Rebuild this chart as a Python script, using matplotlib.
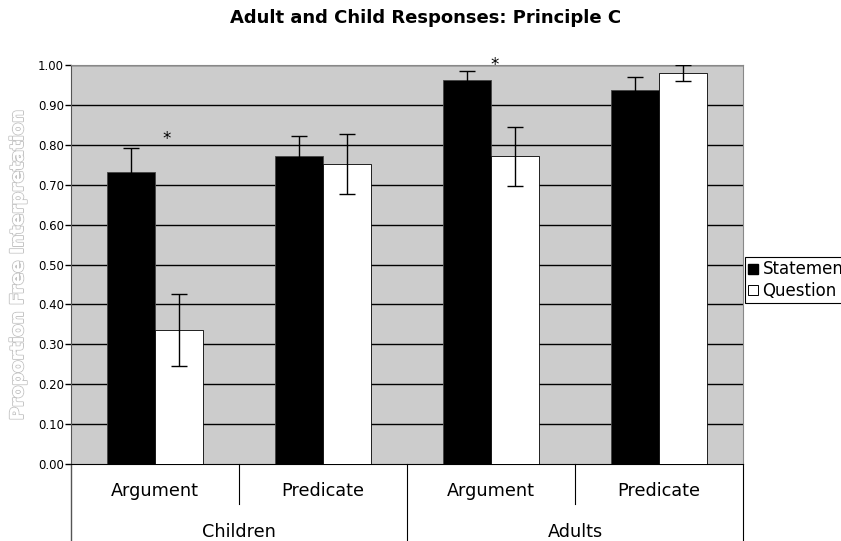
#! /usr/bin/env python3
# -*- coding: utf-8 -*-

from matplotlib import pyplot as plt
from matplotlib import patheffects
from matplotlib.lines import Line2D
import matplotlib.transforms as mtransforms
import numpy as np

# Bar data: statement vs question, per group/phrase type
groups = ['Children', 'Adults']
phrases = ['Argument', 'Predicate', 'Argument', 'Predicate']
statement = [0.733, 0.772, 0.962, 0.937]
statement_err = [0.058, 0.050, 0.024, 0.034]
question = [0.335, 0.751, 0.771, 0.981]
question_err = [0.090, 0.075, 0.074, 0.020]

# significance markers (category index, height)
star_x = [0.071, 2.024]
star_y = [0.815, 1.000]

yticks = np.arange(0, 1.01, 0.1)

fig = plt.figure(figsize=(8.41, 5.41), dpi=100)
ax = fig.add_axes([71/841, 77/541, 672/841, 399/541])
ax.set_facecolor('#cccccc')

x = np.arange(len(phrases))
w = 0.286
ax.bar(x - w/2, statement, w, color='black', edgecolor='#444444', linewidth=0.6, zorder=3)
ax.bar(x + w/2, question, w, color='white', edgecolor='black', linewidth=0.6, zorder=3)
ax.errorbar(x - w/2, statement, yerr=statement_err, fmt='none', ecolor='black',
            elinewidth=1, capsize=5.5, capthick=1, zorder=4)
ax.errorbar(x + w/2, question, yerr=question_err, fmt='none', ecolor='black',
            elinewidth=1, capsize=5.5, capthick=1, zorder=4)

for sx, sy in zip(star_x, star_y):
    ax.text(sx, sy, '*', ha='center', va='center', fontsize=12, zorder=5)

ax.set_xlim(-0.5, 3.5)
ax.set_ylim(0, 1.0)
ax.set_yticks(yticks)
ax.set_yticklabels([f'{v:.2f}' for v in yticks], fontsize=8.5)
ax.tick_params(axis='y', direction='out', length=4, width=1, pad=1)
ax.set_xticks([])
for y in yticks[1:]:
    ax.axhline(y, color='black', linewidth=1, zorder=1)

for side in ['top', 'right']:
    ax.spines[side].set_color('#888888')
ax.spines['left'].set_color('#555555')
ax.spines['bottom'].set_color('black')

# two-level category axis below the plot
trans = mtransforms.blended_transform_factory(ax.transData, ax.transAxes)
for i, p in enumerate(phrases):
    ax.text(i, -0.068, p, transform=trans, ha='center', va='center', fontsize=12.7)
for i, g in enumerate(groups):
    ax.text(2*i + 0.5, -0.17, g, transform=trans, ha='center', va='center', fontsize=12.7)
for sx in [0.5, 2.5]:
    ax.add_line(Line2D([sx, sx], [0, -0.1], transform=trans, color='black',
                       linewidth=0.8, clip_on=False))
for sx, c in [(-0.5, '#555555'), (1.5, 'black'), (3.5, 'black')]:
    ax.add_line(Line2D([sx, sx], [0, -0.2], transform=trans, color=c,
                       linewidth=1 if c != 'black' else 0.8, clip_on=False))

fig.text(426/841, 1 - 18/541, 'Adult and Child Responses: Principle C',
         ha='center', va='center', fontsize=13, fontweight='bold')

ylab = fig.text(18/841, 1 - 266/541, 'Proportion Free Interpretation', rotation=90,
                ha='center', va='center', fontsize=13, fontweight='bold', color='white')
ylab.set_path_effects([patheffects.withStroke(linewidth=1.4, foreground='#c4c4c4'),
                       patheffects.Normal()])

# legend sits against the right edge, so the first label runs off the figure
handles = [Line2D([], [], marker='s', linestyle='none', markersize=6.5,
                  markerfacecolor='black', markeredgecolor='black'),
           Line2D([], [], marker='s', linestyle='none', markersize=6.5,
                  markerfacecolor='white', markeredgecolor='black', markeredgewidth=0.7)]
leg = fig.legend(handles, ['Statement', 'Question'], loc='upper left',
                 bbox_to_anchor=(745/841, 1 - 257/541), fontsize=12,
                 fancybox=False, framealpha=1, edgecolor='black',
                 handlelength=0.6, handletextpad=0.25, borderpad=0.2,
                 labelspacing=0.2, borderaxespad=0)
leg.get_frame().set_linewidth(0.8)

fig.savefig('out.png', dpi=100)
